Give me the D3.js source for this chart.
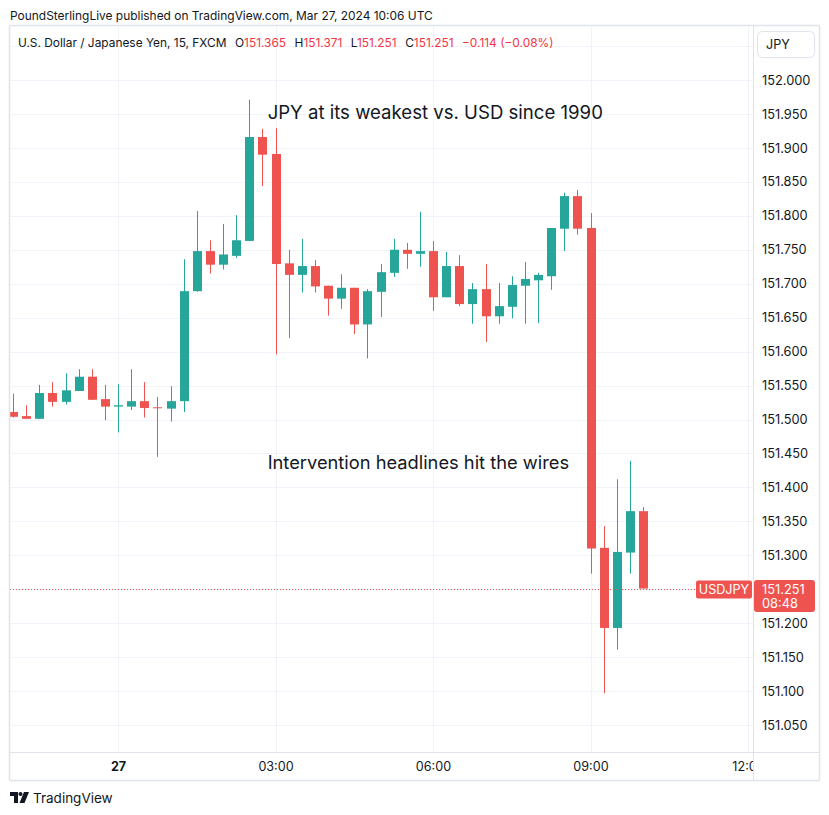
<!DOCTYPE html>
<html><head><meta charset="utf-8">
<script src="https://cdn.jsdelivr.net/npm/d3@7"></script>
<style>
html,body{margin:0;padding:0;background:#fff;}
svg{display:block;font-family:Inter,"Noto Sans",sans-serif;}
</style></head><body>
<svg id="c" width="829" height="815"></svg>
<script>
// ---- data ----
const times = ["2024-03-26 22:00","2024-03-26 22:15","2024-03-26 22:30","2024-03-26 22:45",
"2024-03-26 23:00","2024-03-26 23:15","2024-03-26 23:30","2024-03-26 23:45",
"2024-03-27 00:00","2024-03-27 00:15","2024-03-27 00:30","2024-03-27 00:45",
"2024-03-27 01:00","2024-03-27 01:15","2024-03-27 01:30","2024-03-27 01:45",
"2024-03-27 02:00","2024-03-27 02:15","2024-03-27 02:30","2024-03-27 02:45",
"2024-03-27 03:00","2024-03-27 03:15","2024-03-27 03:30","2024-03-27 03:45",
"2024-03-27 04:00","2024-03-27 04:15","2024-03-27 04:30","2024-03-27 04:45",
"2024-03-27 05:00","2024-03-27 05:15","2024-03-27 05:30","2024-03-27 05:45",
"2024-03-27 06:00","2024-03-27 06:15","2024-03-27 06:30","2024-03-27 06:45",
"2024-03-27 07:00","2024-03-27 07:15","2024-03-27 07:30","2024-03-27 07:45",
"2024-03-27 08:00","2024-03-27 08:15","2024-03-27 08:30","2024-03-27 08:45",
"2024-03-27 09:00","2024-03-27 09:15","2024-03-27 09:30","2024-03-27 09:45",
"2024-03-27 10:00"];
const open  = [151.511,151.505,151.501,151.539,151.526,151.542,151.563,151.530,151.519,151.519,151.527,151.518,151.516,151.527,151.689,151.748,151.728,151.741,151.763,151.916,151.891,151.730,151.713,151.726,151.697,151.678,151.694,151.640,151.688,151.716,151.750,151.744,151.748,151.680,151.726,151.670,151.692,151.652,151.666,151.697,151.705,151.711,151.781,151.829,151.782,151.311,151.193,151.304,151.365];
const high  = [151.538,151.521,151.551,151.555,151.568,151.574,151.574,151.551,151.552,151.574,151.555,151.533,151.549,151.736,151.807,151.764,151.788,151.801,151.971,151.928,151.929,151.750,151.766,151.735,151.697,151.714,151.694,151.692,151.729,151.766,151.760,151.806,151.763,151.747,151.742,151.701,151.729,151.701,151.711,151.732,151.716,151.782,151.834,151.838,151.804,151.343,151.412,151.439,151.371];
const low   = [151.503,151.501,151.501,151.519,151.522,151.542,151.529,151.499,151.481,151.514,151.503,151.445,151.497,151.511,151.688,151.715,151.721,151.738,151.763,151.844,151.596,151.620,151.687,151.687,151.653,151.663,151.626,151.590,151.651,151.710,151.722,151.725,151.660,151.680,151.667,151.641,151.614,151.641,151.649,151.641,151.642,151.691,151.748,151.772,151.273,151.097,151.161,151.273,151.251];
const close = [151.504,151.501,151.539,151.526,151.543,151.563,151.529,151.519,151.521,151.527,151.517,151.517,151.527,151.689,151.748,151.728,151.743,151.764,151.916,151.890,151.729,151.713,151.726,151.696,151.678,151.694,151.640,151.689,151.717,151.750,151.744,151.748,151.680,151.726,151.670,151.692,151.652,151.667,151.698,151.707,151.713,151.782,151.829,151.781,151.310,151.193,151.305,151.365,151.251];
// price labels shown on the axis (151.250 is hidden behind the last-price tag)
const priceTicks = [151.05,151.10,151.15,151.20,151.30,151.35,151.40,151.45,151.50,151.55,151.60,151.65,151.70,151.75,151.80,151.85,151.90,151.95,152.00];
const gridPrices = [151.05,151.10,151.15,151.20,151.25,151.30,151.35,151.40,151.45,151.50,151.55,151.60,151.65,151.70,151.75,151.80,151.85,151.90,151.95,152.00,152.05];
const timeTicks = ["2024-03-27 00:00","2024-03-27 03:00","2024-03-27 06:00","2024-03-27 09:00","2024-03-27 12:00"];
const lastPrice = 151.251;
const symbol = "USDJPY", countdown = "08:48";
const annotations = [
  {text:"JPY at its weakest vs. USD since 1990", t:"2024-03-27 02:51", p:151.943},
  {text:"Intervention headlines hit the wires", t:"2024-03-27 02:51", p:151.427}
];

// ---- layout ----
const UP="#26a69a", DN="#ef5350", GRID="#f0f3fa", BORDER="#e0e3eb", TXT="#131722";
const L=10, R=753, T=26, B=752, FR=819, FB=780;
const parse = d3.timeParse("%Y-%m-%d %H:%M");
const data = times.map((t,i)=>({t:parse(t),o:open[i],h:high[i],l:low[i],c:close[i]}));

const x = d3.scaleTime().domain([parse("2024-03-27 00:00"), parse("2024-03-27 12:00")]).range([118,748]);
const y = d3.scaleLinear().domain([151.0,152.0]).range([759,80]);

const svg = d3.select("#c");
const defs = svg.append("defs");
defs.append("clipPath").attr("id","plot").append("rect").attr("x",L).attr("y",T).attr("width",R-L).attr("height",B-T);
defs.append("clipPath").attr("id","taxis").append("rect").attr("x",L).attr("y",B).attr("width",R-L).attr("height",FB-B);

// header
svg.append("text").attr("x",10).attr("y",19.5).attr("font-size",11.95).attr("fill",TXT)
  .text("PoundSterlingLive published on TradingView.com, Mar 27, 2024 10:06 UTC");

// grid
const g = svg.append("g").attr("clip-path","url(#plot)");
g.selectAll("line.h").data(gridPrices).join("line").attr("class","h")
  .attr("x1",L).attr("x2",R).attr("y1",d=>Math.round(y(d))+0.5).attr("y2",d=>Math.round(y(d))+0.5)
  .attr("stroke",GRID).attr("stroke-width",1);
g.selectAll("line.v").data(timeTicks.map(parse)).join("line").attr("class","v")
  .attr("y1",T).attr("y2",B).attr("x1",d=>Math.round(x(d))+0.5).attr("x2",d=>Math.round(x(d))+0.5)
  .attr("stroke",GRID).attr("stroke-width",1);

// candles
const bw = 9;
const cs = g.append("g").selectAll("g").data(data).join("g");
cs.append("line")
  .attr("x1",d=>Math.round(x(d.t))+0.5).attr("x2",d=>Math.round(x(d.t))+0.5)
  .attr("y1",d=>y(d.h)).attr("y2",d=>y(d.l))
  .attr("stroke",d=>d.c>=d.o?UP:DN).attr("stroke-width",1);
cs.append("rect")
  .attr("x",d=>Math.round(x(d.t))+0.5-bw/2)
  .attr("width",bw)
  .attr("y",d=>y(Math.max(d.o,d.c)))
  .attr("height",d=>Math.max(1,Math.abs(y(d.o)-y(d.c))))
  .attr("fill",d=>d.c>=d.o?UP:DN);

// last price dotted line
const ly = Math.round(y(lastPrice))+0.5;
g.append("line").attr("x1",L).attr("x2",696).attr("y1",ly).attr("y2",ly)
  .attr("stroke",DN).attr("stroke-width",1).attr("stroke-dasharray","1,2");

// annotations
g.selectAll("text.ann").data(annotations).join("text").attr("class","ann")
  .attr("x",d=>x(parse(d.t))).attr("y",d=>y(d.p))
  .attr("font-size",(d,i)=>i===0?18.6:18.3).attr("fill",TXT).text(d=>d.text);

// legend
const leg = svg.append("text").attr("x",18).attr("y",46.5).attr("font-size",11.9).attr("fill",TXT);
leg.append("tspan").text("U.S. Dollar / Japanese Yen, 15, FXCM");
[["O",open[open.length-1]],["H",high[high.length-1]],["L",low[low.length-1]],["C",close[close.length-1]]].forEach((p,i)=>{
  leg.append("tspan").attr("dx",8.5).text(p[0]);
  leg.append("tspan").attr("fill","#f23645").text(d3.format(".3f")(p[1]));
});
const chg = close[close.length-1]-open[open.length-1];
leg.append("tspan").attr("dx",8.5).attr("fill","#f23645")
  .text("\u2212"+d3.format(".3f")(Math.abs(chg))+" (\u2212"+d3.format(".2f")(Math.abs(chg)/open[open.length-1]*100)+"%)");

// frame
svg.append("line").attr("x1",R+0.5).attr("x2",R+0.5).attr("y1",T).attr("y2",FB).attr("stroke",BORDER);
svg.append("line").attr("x1",L).attr("x2",FR).attr("y1",B+0.5).attr("y2",B+0.5).attr("stroke",BORDER);
svg.append("rect").attr("x",L-0.5).attr("y",T-0.5).attr("width",FR-L+1).attr("height",FB-T+1)
  .attr("fill","none").attr("stroke",BORDER).attr("stroke-width",1.5).attr("rx",1);

// price axis
const ya = svg.append("g").attr("transform",`translate(${R},0)`)
  .call(d3.axisRight(y).tickValues(priceTicks).tickSize(0).tickPadding(9).tickFormat(d3.format(".3f")));
ya.select(".domain").remove();
ya.selectAll("text").attr("font-size",12.8).attr("fill",TXT).attr("font-family","Inter,sans-serif");

// JPY box
svg.append("rect").attr("x",757.5).attr("y",31.5).attr("width",57).attr("height",26).attr("rx",5)
  .attr("fill","#fff").attr("stroke",BORDER);
svg.append("text").attr("x",766).attr("y",49).attr("font-size",12.6).attr("fill",TXT).text("JPY");

// time axis (clipped at the price-axis edge)
const xclip = svg.append("g").attr("clip-path","url(#taxis)");
const xa = xclip.append("g").attr("transform",`translate(0,${B})`)
  .call(d3.axisBottom(x).tickValues(timeTicks.map(parse)).tickSize(0).tickPadding(10)
    .tickFormat(d=>d.getHours()===0?d3.timeFormat("%-d")(d):d3.timeFormat("%H:%M")(d)));
xa.select(".domain").remove();
xa.selectAll("text").attr("font-size",12.6).attr("fill",TXT).attr("font-family","Inter,sans-serif")
  .attr("font-weight",d=>d.getHours()===0?700:400);

// last price labels
svg.append("rect").attr("x",696).attr("y",580.5).attr("width",56).attr("height",18).attr("rx",2).attr("fill",DN);
svg.append("text").attr("x",724).attr("y",594).attr("text-anchor","middle").attr("font-size",12.6).attr("fill","#fff").text(symbol);
svg.append("rect").attr("x",754).attr("y",580).attr("width",61).attr("height",32).attr("rx",3).attr("fill",DN);
svg.append("text").attr("x",762).attr("y",594).attr("font-size",12.8).attr("fill","#fff").text(d3.format(".3f")(lastPrice));
svg.append("text").attr("x",762).attr("y",608).attr("font-size",12.8).attr("fill","#fff").text(countdown);

// TradingView logo
const lg = svg.append("g").attr("transform","translate(10,792)").attr("fill",TXT);
lg.append("path").attr("d","M0 0H8V11H4V4H0Z");
lg.append("circle").attr("cx",10.5).attr("cy",2).attr("r",2);
lg.append("path").attr("d","M14 0H19L14.5 11H9.5Z");
svg.append("text").attr("x",33).attr("y",803).attr("font-size",13.5).attr("fill",TXT).text("TradingView");
</script>
</body></html>
